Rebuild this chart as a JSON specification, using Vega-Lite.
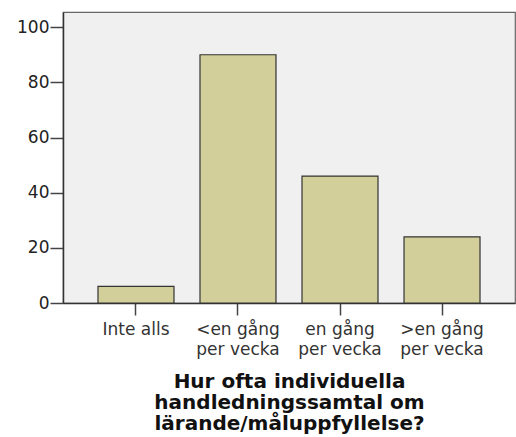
{
  "$schema": "https://vega.github.io/schema/vega-lite/v6.json",
  "width": 452,
  "height": 291,
  "autosize": {"type": "none"},
  "padding": {"left": 63, "top": 12, "right": 1, "bottom": 134},
  "background": "white",
  "config": {
    "font": "DejaVu Sans",
    "view": {"stroke": "#666666", "strokeWidth": 1.2, "fill": "#F0F0F0"}
  },
  "data": {
    "values": [
      {"kategori": "Inte alls", "antal": 6},
      {"kategori": "<en gång per vecka", "antal": 90},
      {"kategori": "en gång per vecka", "antal": 46},
      {"kategori": ">en gång per vecka", "antal": 24}
    ]
  },
  "mark": {"type": "bar", "fill": "#D3CF9A", "stroke": "#333333", "strokeWidth": 1.2},
  "encoding": {
    "x": {
      "field": "kategori",
      "type": "nominal",
      "sort": null,
      "scale": {"paddingInner": 0.255, "paddingOuter": 0.343},
      "axis": {
        "title": ["Hur ofta individuella", "handledningssamtal om", "lärande/måluppfyllelse?"],
        "titleFontSize": 20,
        "titleFontWeight": "bold",
        "titleColor": "#111111",
        "titleLineHeight": 21,
        "titlePadding": 14,
        "labelAngle": 0,
        "labelFontSize": 17,
        "labelColor": "#333333",
        "labelLineHeight": 20,
        "labelPadding": 6,
        "labelExpr": "indexof(datum.label, ' per ') > 0 ? [substring(datum.label, 0, indexof(datum.label, ' per ')), 'per vecka'] : datum.label",
        "tickSize": 12,
        "tickWidth": 1.5,
        "tickColor": "#444444",
        "domainColor": "#333333",
        "domainWidth": 1.5
      }
    },
    "y": {
      "field": "antal",
      "type": "quantitative",
      "scale": {"domain": [0, 105.5], "nice": false},
      "axis": {
        "title": null,
        "values": [0, 20, 40, 60, 80, 100],
        "grid": false,
        "labelFontSize": 17,
        "labelColor": "#222222",
        "labelPadding": 1,
        "tickSize": 13,
        "tickWidth": 1.5,
        "tickColor": "#444444",
        "domainColor": "#333333",
        "domainWidth": 1.5
      }
    }
  }
}
